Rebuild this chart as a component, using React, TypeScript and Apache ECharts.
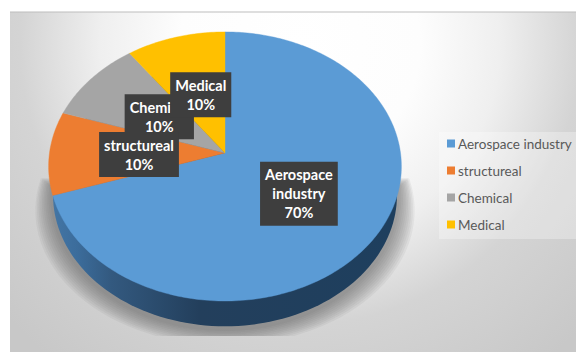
import React, { useEffect, useRef } from "react";
import * as echarts from "echarts";

const categories = ["Aerospace industry", "structureal", "Chemical", "Medical"];
const shares = [70, 10, 10, 10];
const sliceColors = ["#5B9BD5", "#ED7D31", "#A5A5A5", "#FFC000"];
const labelLines = [["Aerospace", "industry"], ["structureal"], ["Chemical"], ["Medical"]];
const labelOrder = [0, 2, 1, 3];

// Tilted-disc projection of the pie: a point on the disc is projected with perspective.
const APEX_X = 225;
const APEX_Y = 153;
const RADIUS_X = 175.5;
const RADIUS_Y = 133.2;
const PERSPECTIVE = 0.1;
const LABEL_RADIUS = 0.49;
const labelNudgeY = [0, 1.5, 0, -1.5];
const SHADOW_LAYERS = 10;

const total = shares.reduce((a, b) => a + b, 0);
const startDeg = (i: number) => (shares.slice(0, i).reduce((a, b) => a + b, 0) / total) * 360;

function rim(deg: number): [number, number] {
  const t = (deg * Math.PI) / 180;
  const depth = 1 + PERSPECTIVE * Math.cos(t);
  return [APEX_X + (RADIUS_X * Math.sin(t)) / depth, APEX_Y - (RADIUS_Y * Math.cos(t)) / depth];
}

function ring(transform: (p: [number, number]) => [number, number]) {
  const pts: [number, number][] = [];
  for (let d = 0; d < 360; d += 2) pts.push(transform(rim(d)));
  return pts;
}

function slicePoints(i: number) {
  const a = startDeg(i);
  const b = startDeg(i + 1);
  const pts: [number, number][] = [[APEX_X, APEX_Y]];
  const steps = Math.ceil(b - a);
  for (let s = 0; s <= steps; s++) pts.push(rim(a + ((b - a) * s) / steps));
  return pts;
}

const pageGradient = () =>
  new echarts.graphic.RadialGradient(
    300,
    45,
    400,
    [
      { offset: 0, color: "#ffffff" },
      { offset: 0.3, color: "#fdfdfd" },
      { offset: 0.5, color: "#efefef" },
      { offset: 0.7, color: "#d4d4d4" },
      { offset: 1, color: "#c8c8c8" },
    ],
    true
  );

function sliceSeries(i: number) {
  return {
    type: "custom",
    name: categories[i],
    coordinateSystem: "none",
    z: 3,
    silent: true,
    itemStyle: { color: sliceColors[i] },
    data: [shares[i]],
    renderItem: () => ({
      type: "polygon",
      shape: { points: slicePoints(i) },
      style: { fill: sliceColors[i], stroke: sliceColors[i], lineWidth: 0.4 },
    }),
  };
}

// Soft ground shadow built from stacked translucent outlines that grow outwards.
function shadowLayers() {
  const layers = [];
  for (let k = 0; k < SHADOW_LAYERS; k++) {
    const f = k / (SHADOW_LAYERS - 1);
    layers.push({
      type: "polygon",
      shape: {
        points: ring(([x, y]) => [
          APEX_X + (x - APEX_X) * (0.99 + 0.085 * f),
          Math.max(y + 30 + 14 * f, 178 + 8 * (1 - f)),
        ]),
      },
      style: { fill: "rgba(90,90,90,0.075)" },
    });
  }
  return layers;
}

// Ground shadow and the side wall of the disc, both drawn under the slices.
const baseSeries = {
  type: "custom",
  name: "base",
  coordinateSystem: "none",
  z: 2,
  silent: true,
  data: [total],
  renderItem: () => ({
    type: "group",
    children: [
      ...shadowLayers(),
      {
        type: "rect",
        shape: { x: 10, y: 336, width: 566, height: 16 },
        style: { fill: pageGradient() },
      },
      {
        type: "polygon",
        shape: {
          points: ring(([x, y]) => [
            APEX_X + (x - APEX_X) * 0.975,
            APEX_Y + (y - APEX_Y) * 0.975 + 29,
          ]),
        },
        style: {
          fill: new echarts.graphic.LinearGradient(
            48,
            0,
            400,
            0,
            [
              { offset: 0, color: "#4577a6" },
              { offset: 0.08, color: "#3c6d9c" },
              { offset: 0.18, color: "#33597f" },
              { offset: 0.43, color: "#233f5c" },
              { offset: 1, color: "#1e3f5e" },
            ],
            true
          ),
        },
      },
    ],
  }),
};

// Dark value boxes placed along each slice's middle direction.
const labelSeries = {
  type: "custom",
  name: "labels",
  coordinateSystem: "none",
  z: 4,
  silent: true,
  data: labelOrder.map((i) => shares[i]),
  renderItem: (params: any) => {
    const i = labelOrder[params.dataIndex];
    const [rx, ry] = rim((startDeg(i) + startDeg(i + 1)) / 2);
    const percent = Math.round((shares[i] / total) * 100);
    return {
      type: "text",
      x: APEX_X + (rx - APEX_X) * LABEL_RADIUS,
      y: APEX_Y + (ry - APEX_Y) * LABEL_RADIUS + labelNudgeY[i],
      style: {
        text: [...labelLines[i], `${percent}%`].join("\n"),
        fill: "#ffffff",
        fontFamily: "Lato",
        fontWeight: "bold",
        fontSize: 14.5,
        lineHeight: 19,
        align: "center",
        verticalAlign: "middle",
        backgroundColor: "#3e3e3e",
        padding: [3, 5, 4, 5],
        boxShadowBlur: 4,
        boxShadowColor: "rgba(0,0,0,0.45)",
        boxShadowOffsetX: 2,
        boxShadowOffsetY: 2,
      },
    };
  },
};

export default function App() {
  const ref = useRef<HTMLDivElement>(null);

  useEffect(() => {
    document.body.style.margin = "0";
    const chart = echarts.init(ref.current!, undefined, { renderer: "svg" });
    chart.setOption({
      animation: false,
      backgroundColor: "#ffffff",
      graphic: [
        {
          type: "rect",
          z: 0,
          shape: { x: 10, y: 12, width: 566, height: 340 },
          style: { fill: pageGradient() },
        },
        {
          type: "line",
          z: 0,
          shape: { x1: 10, y1: 12, x2: 576, y2: 12 },
          style: { stroke: "#bdbdbd", lineWidth: 1 },
        },
        {
          type: "rect",
          z: 0,
          shape: { x: 439, y: 132, width: 137, height: 107 },
          style: { fill: "rgba(255,255,255,0.3)" },
        },
      ],
      legend: {
        orient: "vertical",
        left: 442,
        top: 131,
        padding: [5, 0, 0, 5],
        itemWidth: 8,
        itemHeight: 8,
        itemGap: 12,
        icon: "rect",
        data: categories,
        selectedMode: false,
        textStyle: {
          fontFamily: "Lato",
          fontSize: 13.5,
          color: "#595959",
          lineHeight: 15,
          padding: [0, 0, 0, -2],
        },
      },
      series: [baseSeries, ...categories.map((_, i) => sliceSeries(i)), labelSeries],
    });
    return () => chart.dispose();
  }, []);

  return <div ref={ref} style={{ width: 576, height: 352 }} />;
}
